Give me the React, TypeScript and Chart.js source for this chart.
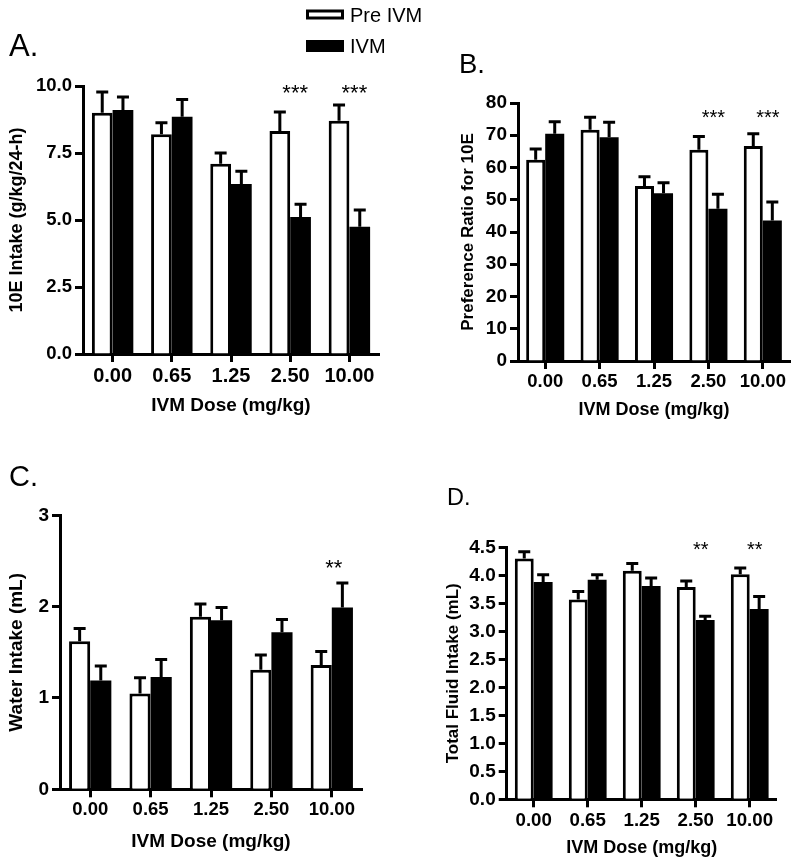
import React, { useEffect, useRef } from "react";
import { Chart, registerables } from "chart.js";

Chart.register(...registerables);

const FONT = "'Liberation Sans', Arial, Helvetica, sans-serif";

// ---- shared categories / labels ----
const doses = ["0.00", "0.65", "1.25", "2.50", "10.00"];
const seriesNames = ["Pre IVM", "IVM"];
const xAxisTitle = "IVM Dose (mg/kg)";

// ---- A: 10E intake ----
const intakePre = [9.0, 8.2, 7.1, 8.32, 8.7];
const intakePreSem = [0.78, 0.43, 0.4, 0.71, 0.59];
const intakeIvm = [9.1, 8.85, 6.34, 5.11, 4.75];
const intakeIvmSem = [0.49, 0.65, 0.48, 0.48, 0.62];
const intakeSig = ["", "", "", "***", "***"];
const intakeTicks = [0, 2.5, 5, 7.5, 10];

// ---- B: preference ratio ----
const prefPre = [62.4, 71.7, 54.3, 65.5, 66.7];
const prefPreSem = [3.3, 3.9, 2.8, 4.1, 3.8];
const prefIvm = [70.5, 69.4, 52.0, 47.2, 43.6];
const prefIvmSem = [3.7, 4.6, 3.3, 4.5, 5.7];
const prefSig = ["", "", "", "***", "***"];
const prefTicks = [0, 10, 20, 30, 40, 50, 60, 70, 80];

// ---- C: water intake ----
const waterPre = [1.62, 1.05, 1.89, 1.31, 1.36];
const waterPreSem = [0.14, 0.17, 0.14, 0.16, 0.15];
const waterIvm = [1.19, 1.23, 1.85, 1.72, 1.99];
const waterIvmSem = [0.16, 0.19, 0.14, 0.14, 0.27];
const waterSig = ["", "", "", "", "**"];
const waterTicks = [0, 1, 2, 3];

// ---- D: total fluid intake ----
const fluidPre = [4.3, 3.57, 4.08, 3.79, 4.02];
const fluidPreSem = [0.12, 0.14, 0.13, 0.11, 0.11];
const fluidIvm = [3.88, 3.92, 3.81, 3.2, 3.4];
const fluidIvmSem = [0.13, 0.09, 0.14, 0.07, 0.22];
const fluidSig = ["", "", "", "**", "**"];
const fluidTicks = [0, 0.5, 1, 1.5, 2, 2.5, 3, 3.5, 4, 4.5];

type Layout = {
  box: { left: number; top: number; width: number; height: number };
  area: { l: number; r: number; t: number; b: number };
  yTitleSize: number;
  yTitlePad: number;
  xTitleSize: number;
  xTitlePad: number;
  xTickSize: number;
  yTickSize: number;
  label: { x: number; y: number; size: number };
  sig: { level: number; dx: number; size: number };
  legend?: any;
};

const panels = [
  {
    name: "A.",
    yTitle: "10E Intake (g/kg/24-h)",
    pre: intakePre, preSem: intakePreSem, ivm: intakeIvm, ivmSem: intakeIvmSem,
    sig: intakeSig, ticks: intakeTicks, dec: 1,
    layout: {
      box: { left: 0, top: 0, width: 440, height: 440 },
      area: { l: 83, r: 379, t: 86, b: 354 },
      yTitleSize: 18, yTitlePad: 6.2, xTitleSize: 19, xTitlePad: 22.9,
      xTickSize: 20, yTickSize: 18.5,
      label: { x: 9, y: 56, size: 31 },
      sig: { level: 9.94, dx: 5, size: 22 },
      legend: { x: 306, w: 38, textX: 350, size: 20, rows: [{ y: 9.5, h: 10 }, { y: 40, h: 12 }] },
    } as Layout,
  },
  {
    name: "B.",
    yTitle: "Preference Ratio for 10E",
    pre: prefPre, preSem: prefPreSem, ivm: prefIvm, ivmSem: prefIvmSem,
    sig: prefSig, ticks: prefTicks, dec: 0,
    layout: {
      box: { left: 440, top: 0, width: 360, height: 440 },
      area: { l: 78, r: 350, t: 103, b: 361 },
      yTitleSize: 17, yTitlePad: 17.8, xTitleSize: 18, xTitlePad: 19.2,
      xTickSize: 18.5, yTickSize: 19,
      label: { x: 19, y: 73.3, size: 27.5 },
      sig: { level: 77, dx: 5, size: 20 },
    } as Layout,
  },
  {
    name: "C.",
    yTitle: "Water Intake (mL)",
    pre: waterPre, preSem: waterPreSem, ivm: waterIvm, ivmSem: waterIvmSem,
    sig: waterSig, ticks: waterTicks, dec: 0,
    layout: {
      box: { left: 0, top: 440, width: 440, height: 425 },
      area: { l: 60, r: 362, t: 75.3, b: 349.3 },
      yTitleSize: 19, yTitlePad: 5.6, xTitleSize: 19, xTitlePad: 11.9,
      xTickSize: 18.5, yTickSize: 19,
      label: { x: 9, y: 46.3, size: 29 },
      sig: { level: 2.49, dx: 2, size: 22 },
    } as Layout,
  },
  {
    name: "D.",
    yTitle: "Total Fluid Intake (mL)",
    pre: fluidPre, preSem: fluidPreSem, ivm: fluidIvm, ivmSem: fluidIvmSem,
    sig: fluidSig, ticks: fluidTicks, dec: 1,
    layout: {
      box: { left: 440, top: 440, width: 360, height: 425 },
      area: { l: 66.7, r: 336.7, t: 107.3, b: 359.3 },
      yTitleSize: 17, yTitlePad: 2.8, xTitleSize: 18, xTitlePad: 6.2,
      xTickSize: 18.7, yTickSize: 19,
      label: { x: 7, y: 65, size: 23.5 },
      sig: { level: 4.55, dx: 5, size: 20 },
    } as Layout,
  },
];

const errorBars = {
  id: "errorBars",
  afterDatasetsDraw(chart: any, _a: any, opts: any) {
    const { ctx } = chart;
    const ys = chart.scales.y;
    const errs = opts.errors || [];
    const cap = opts.cap ?? 12;
    chart.data.datasets.forEach((ds: any, di: number) => {
      const meta = chart.getDatasetMeta(di);
      meta.data.forEach((el: any, i: number) => {
        const e = errs[di] ? errs[di][i] : null;
        if (e == null) return;
        const yt = ys.getPixelForValue(ds.data[i] + e);
        ctx.save();
        ctx.strokeStyle = "#000";
        ctx.lineWidth = 3;
        ctx.beginPath();
        ctx.moveTo(el.x, el.y);
        ctx.lineTo(el.x, yt - 1.5);
        ctx.moveTo(el.x - cap / 2, yt);
        ctx.lineTo(el.x + cap / 2, yt);
        ctx.stroke();
        ctx.restore();
      });
    });
  },
};

const sigMarks = {
  id: "sigMarks",
  afterDatasetsDraw(chart: any, _a: any, opts: any) {
    const { ctx } = chart;
    const xs = chart.scales.x;
    const ys = chart.scales.y;
    (opts.marks || []).forEach((m: string, i: number) => {
      if (!m) return;
      const x = xs.getPixelForValue(i) + opts.dx;
      const y = ys.getPixelForValue(opts.level) + opts.size * 0.58;
      ctx.save();
      ctx.font = `${opts.size}px ${FONT}`;
      ctx.textAlign = "center";
      ctx.textBaseline = "alphabetic";
      ctx.fillStyle = "#000";
      ctx.fillText(m, x, y);
      ctx.restore();
    });
  },
};

const decor = {
  id: "decor",
  afterDraw(chart: any, _a: any, opts: any) {
    const { ctx } = chart;
    ctx.save();
    if (opts.label) {
      ctx.font = `${opts.label.size}px ${FONT}`;
      ctx.fillStyle = "#000";
      ctx.textAlign = "left";
      ctx.textBaseline = "alphabetic";
      ctx.fillText(opts.label.text, opts.label.x, opts.label.y);
    }
    if (opts.legend) {
      const lg = opts.legend;
      chart.data.datasets.forEach((ds: any, i: number) => {
        const r = lg.rows[i];
        ctx.fillStyle = ds.backgroundColor;
        ctx.fillRect(lg.x, r.y, lg.w, r.h);
        ctx.strokeStyle = "#000";
        ctx.lineWidth = 3;
        ctx.strokeRect(lg.x + 1.5, r.y + 1.5, lg.w - 3, r.h - 3);
        ctx.fillStyle = "#000";
        ctx.font = `${lg.size}px ${FONT}`;
        ctx.textAlign = "left";
        ctx.textBaseline = "middle";
        ctx.fillText(ds.label, lg.textX, r.y + r.h / 2 + 1.5);
      });
    }
    ctx.restore();
  },
};

function buildConfig(p: any): any {
  const L: Layout = p.layout;
  const gridOpts = {
    display: true,
    drawOnChartArea: false,
    drawTicks: true,
    tickLength: 8,
    tickWidth: 3,
    tickColor: "#000",
    offset: false,
  };
  const border = { display: true, width: 3, color: "#000" };
  return {
    type: "bar",
    data: {
      labels: doses,
      datasets: [
        {
          label: seriesNames[0],
          data: p.pre,
          backgroundColor: "#ffffff",
          borderColor: "#000000",
          borderWidth: 3,
          categoryPercentage: 0.7,
          barPercentage: 1.0,
        },
        {
          label: seriesNames[1],
          data: p.ivm,
          backgroundColor: "#000000",
          borderColor: "#000000",
          borderWidth: 0,
          categoryPercentage: 0.7,
          barPercentage: 1.0,
        },
      ],
    },
    options: {
      responsive: false,
      maintainAspectRatio: false,
      animation: false,
      layout: {
        padding: { left: 0, top: L.area.t, right: L.box.width - L.area.r, bottom: 0 },
      },
      plugins: {
        legend: { display: false },
        tooltip: { enabled: false },
        errorBars: { errors: [p.preSem, p.ivmSem], cap: 12 },
        sigMarks: { marks: p.sig, level: L.sig.level, dx: L.sig.dx, size: L.sig.size },
        decor: { label: { text: p.name, ...L.label }, legend: L.legend },
      },
      scales: {
        x: {
          type: "category",
          offset: true,
          grid: gridOpts,
          border,
          ticks: {
            color: "#000",
            padding: 2,
            maxRotation: 0,
            autoSkip: false,
            font: { family: FONT, size: L.xTickSize, weight: "bold" },
          },
          title: {
            display: true,
            text: xAxisTitle,
            color: "#000",
            font: { family: FONT, size: L.xTitleSize, weight: "bold" },
            padding: { top: 0, bottom: L.xTitlePad },
          },
          afterFit: (s: any) => {
            s.height = L.box.height - L.area.b;
          },
        },
        y: {
          type: "linear",
          min: p.ticks[0],
          max: p.ticks[p.ticks.length - 1],
          grid: gridOpts,
          border,
          afterBuildTicks: (s: any) => {
            s.ticks = p.ticks.map((v: number) => ({ value: v }));
          },
          ticks: {
            color: "#000",
            padding: 3,
            font: { family: FONT, size: L.yTickSize, weight: "bold" },
            callback: (v: any) => Number(v).toFixed(p.dec),
          },
          title: {
            display: true,
            text: p.yTitle,
            color: "#000",
            font: { family: FONT, size: L.yTitleSize, weight: "bold" },
            padding: { top: L.yTitlePad, bottom: 0 },
          },
          afterFit: (s: any) => {
            s.width = L.area.l;
          },
        },
      },
    },
    plugins: [errorBars, sigMarks, decor],
  };
}

function Panel({ p }: { p: any }) {
  const ref = useRef<HTMLCanvasElement>(null);
  useEffect(() => {
    if (!ref.current) return;
    const chart = new Chart(ref.current, buildConfig(p));
    return () => chart.destroy();
  }, [p]);
  const b = p.layout.box;
  return (
    <canvas
      ref={ref}
      width={b.width}
      height={b.height}
      style={{ position: "absolute", left: b.left, top: b.top, width: b.width, height: b.height }}
    />
  );
}

export default function App() {
  return (
    <div style={{ position: "absolute", left: 0, top: 0, width: 800, height: 865, background: "#fff" }}>
      {panels.map((p) => (
        <Panel key={p.name} p={p} />
      ))}
    </div>
  );
}
